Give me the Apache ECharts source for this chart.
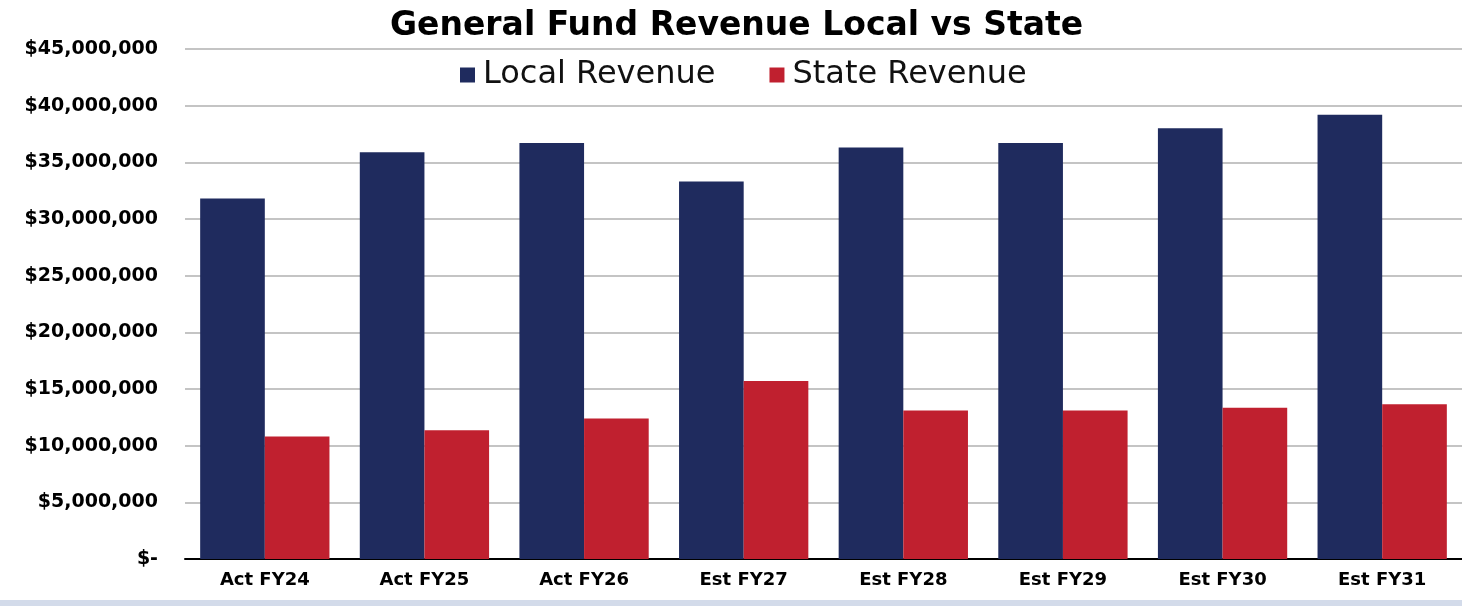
<!DOCTYPE html>
<html>
<head>
<meta charset="utf-8">
<script src="https://cdn.jsdelivr.net/npm/echarts@6/dist/echarts.min.js"></script>
<style>
html,body{margin:0;padding:0;background:#fff;}
#c{width:1462px;height:606px;}
</style>
</head>
<body>
<div id="c"></div>
<script>
const categories = ['Act FY24','Act FY25','Act FY26','Est FY27','Est FY28','Est FY29','Est FY30','Est FY31'];
const localRevenue = [31800000,35900000,36700000,33300000,36300000,36700000,38000000,39200000];
const stateRevenue = [10800000,11350000,12400000,15700000,13100000,13100000,13350000,13650000];
const seriesNames = ['Local Revenue','State Revenue'];
const titleText = 'General Fund Revenue Local vs State';

const chart = echarts.init(document.getElementById('c'));
function fmt(v){
  if (v === 0) return '$-';
  return '$' + v.toLocaleString('en-US');
}
chart.setOption({
  animation:false,
  backgroundColor:'#ffffff',
  title:{
    text:titleText,
    left:390,
    top:7,
    padding:[0,0,0,0],
    textStyle:{fontFamily:'DejaVu Sans',fontWeight:'bold',fontSize:33,color:'#000',lineHeight:38}
  },
  legend:{
    top:59,
    left:460,
    itemWidth:15,
    itemHeight:15,
    itemGap:54,
    icon:'rect',
    padding:0,
    textStyle:{fontFamily:'DejaVu Sans',fontSize:32,color:'#111',padding:[0,0,0,3]},
    data:seriesNames
  },
  grid:{left:185,right:0,top:49,bottom:47,containLabel:false},
  xAxis:{
    type:'category',
    data:categories,
    axisLine:{lineStyle:{color:'#000',width:2}},
    axisTick:{show:false},
    axisLabel:{fontFamily:'DejaVu Sans',fontWeight:'bold',fontSize:18,color:'#000',margin:12}
  },
  yAxis:{
    type:'value',
    min:0,max:45000000,interval:5000000,
    axisLine:{show:false},
    axisTick:{show:false},
    splitLine:{lineStyle:{color:'#b0b0b0',width:1.5}},
    axisLabel:{formatter:fmt,fontFamily:'DejaVu Sans',fontWeight:'bold',fontSize:19,color:'#000',margin:27}
  },
  series:[
    {name:seriesNames[0],type:'bar',data:localRevenue,itemStyle:{color:'#1f2b5e'},barGap:'0%',barCategoryGap:'19%'},
    {name:seriesNames[1],type:'bar',data:stateRevenue,itemStyle:{color:'#c0202f'},barGap:'0%',barCategoryGap:'19%'}
  ],
  graphic:[
    {type:'rect',left:0,top:600,shape:{width:1462,height:6},style:{fill:'#d3dbea'},silent:true}
  ]
});
</script>
</body>
</html>
